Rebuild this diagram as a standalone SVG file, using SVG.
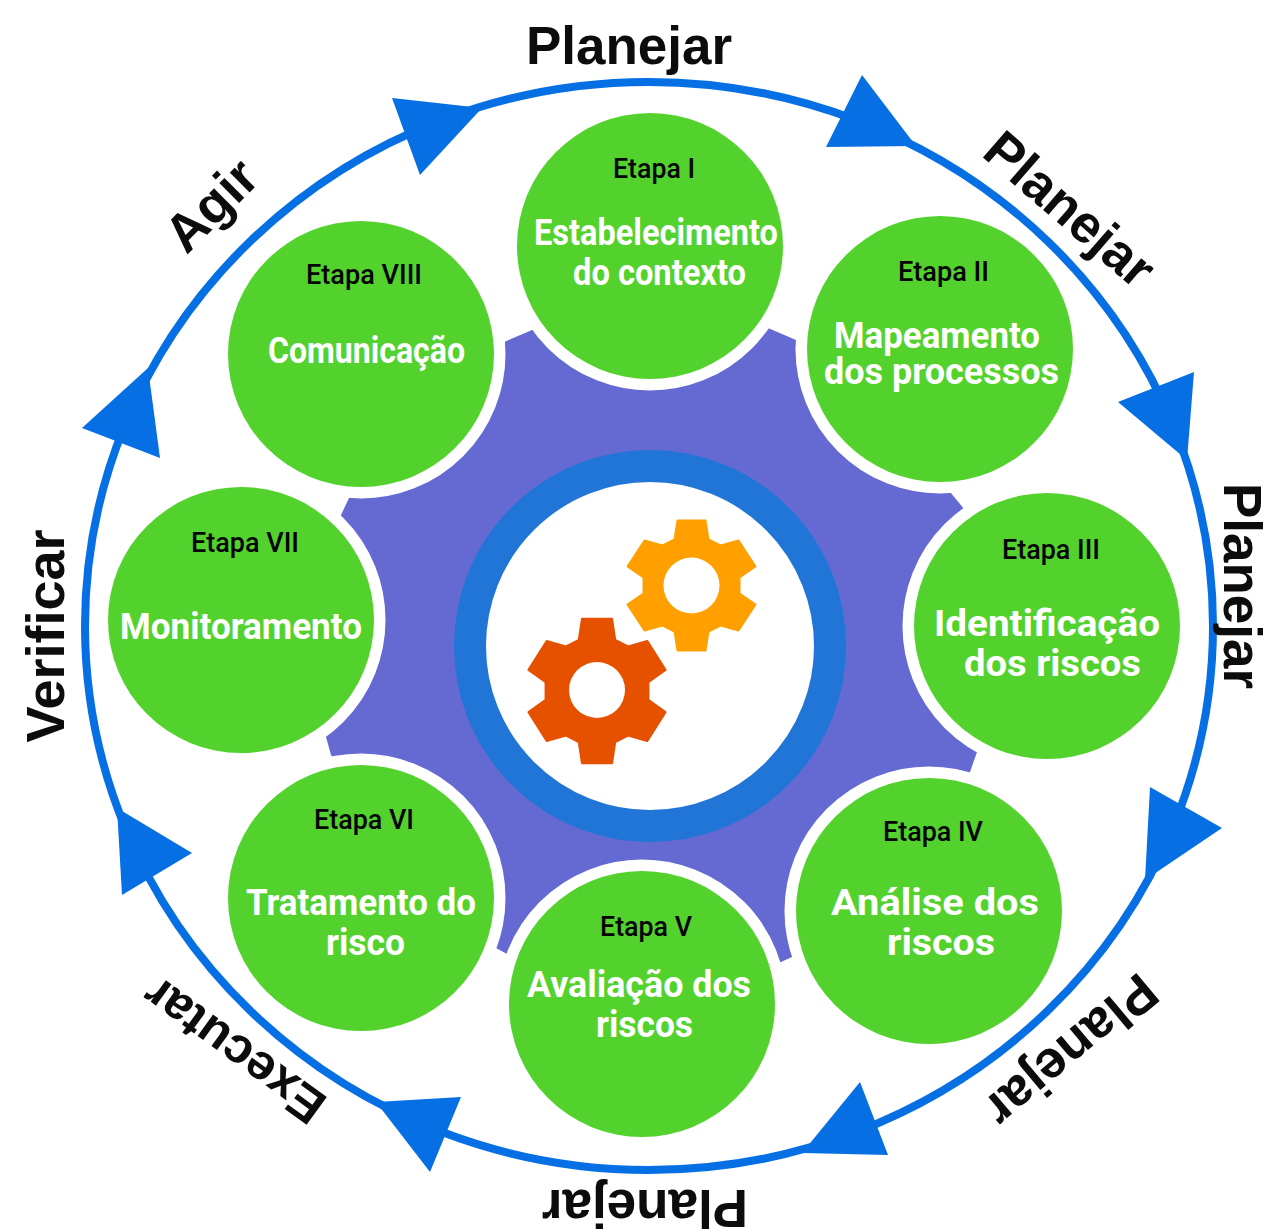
<svg xmlns="http://www.w3.org/2000/svg" xmlns:xlink="http://www.w3.org/1999/xlink" width="1268" height="1230" viewBox="0 0 1268 1230">
<style>
.outer{font-family:"Liberation Sans",Arial,sans-serif;font-weight:700;font-size:53px;fill:#0c0c0c;text-anchor:middle}
.et{font-family:Roboto,"Liberation Sans",sans-serif;font-weight:500;font-size:27px;fill:#050505}
.tt{font-family:Roboto,"Liberation Sans",sans-serif;font-weight:700;font-size:36px;fill:#fff}
.c{fill:#53d22d;stroke:#fff;stroke-width:23;paint-order:stroke}
.arrow{fill:#066fe3}
.g{stroke-width:2;stroke-linejoin:round}
</style>
<defs>
<polygon id="gear" class="g" points="14,-65 17,-46 29,-40 47,-45 64,-19 48,-8 48,8 64,19 47,45 29,40 17,46 14,65 -14,65 -17,46 -29,40 -47,45 -64,19 -48,8 -48,-8 -64,-19 -47,-45 -29,-40 -17,-46 -14,-65"/>
</defs>
<rect width="1268" height="1230" fill="#fff"/>
<g id="connectors">
<ellipse cx="649" cy="626" rx="564" ry="544" fill="none" stroke="#066fe3" stroke-width="8"/>
<polygon class="arrow" points="862,75 826,147 916,146"/>
<polygon class="arrow" points="1194,372 1118,402 1187,460"/>
<polygon class="arrow" points="1150,787 1145,880 1222,828"/>
<polygon class="arrow" points="860,1082 888,1155 802,1153"/>
<polygon class="arrow" points="461,1097 430,1172 376,1102"/>
<polygon class="arrow" points="192,853 122,895 117,808"/>
<polygon class="arrow" points="160,458 82,428 148,368"/>
<polygon class="arrow" points="392,98 420,175 482,108"/>
</g>
<g id="center">
<polygon fill="#646ad2" points="504,342 532,330 768,328 796,340 950,492 965,510 977,752 970,772 792,957 781,962 507,954 496,948 331,755 326,737 341,515 349,498"/>
<circle cx="650" cy="646" r="180" fill="#fff" stroke="#2075d6" stroke-width="32"/>
<use xlink:href="#gear" transform="translate(691.500 585.500)" fill="#ffa000" stroke="#ffa000"/>
<circle cx="691.500" cy="585.500" r="28" fill="#fff"/>
<use xlink:href="#gear" transform="translate(597 691) scale(1.07 1.11)" fill="#e65100" stroke="#e65100"/>
<circle cx="597" cy="690" r="28" fill="#fff"/>
</g>
<g id="etapa1"><circle class="c" cx="650" cy="246" r="133"/><text class="et" x="613" y="178" textLength="82" lengthAdjust="spacingAndGlyphs">Etapa I</text><text class="tt" x="534" y="245" textLength="244" lengthAdjust="spacingAndGlyphs">Estabelecimento</text><text class="tt" x="573" y="285" textLength="173" lengthAdjust="spacingAndGlyphs">do contexto</text></g>
<g id="etapa2"><circle class="c" cx="940" cy="349" r="133"/><text class="et" x="898" y="281" textLength="91" lengthAdjust="spacingAndGlyphs">Etapa II</text><text class="tt" x="834" y="348" textLength="206" lengthAdjust="spacingAndGlyphs">Mapeamento</text><text class="tt" x="824" y="384" textLength="235" lengthAdjust="spacingAndGlyphs">dos processos</text></g>
<g id="etapa3"><circle class="c" cx="1047" cy="626" r="133"/><text class="et" x="1002" y="559" textLength="98" lengthAdjust="spacingAndGlyphs">Etapa III</text><text class="tt" x="934" y="636" textLength="226" lengthAdjust="spacingAndGlyphs">Identificação</text><text class="tt" x="964" y="676" textLength="177" lengthAdjust="spacingAndGlyphs">dos riscos</text></g>
<g id="etapa4"><circle class="c" cx="929" cy="911" r="133"/><text class="et" x="883" y="841" textLength="100" lengthAdjust="spacingAndGlyphs">Etapa IV</text><text class="tt" x="831" y="915" textLength="208" lengthAdjust="spacingAndGlyphs">Análise dos</text><text class="tt" x="887" y="955" textLength="108" lengthAdjust="spacingAndGlyphs">riscos</text></g>
<g id="etapa5"><circle class="c" cx="642" cy="1004" r="133"/><text class="et" x="600" y="936" textLength="92" lengthAdjust="spacingAndGlyphs">Etapa V</text><text class="tt" x="527" y="997" textLength="224" lengthAdjust="spacingAndGlyphs">Avaliação dos</text><text class="tt" x="596" y="1037" textLength="97" lengthAdjust="spacingAndGlyphs">riscos</text></g>
<g id="etapa6"><circle class="c" cx="361" cy="898" r="133"/><text class="et" x="314" y="829" textLength="100" lengthAdjust="spacingAndGlyphs">Etapa VI</text><text class="tt" x="246" y="915" textLength="230" lengthAdjust="spacingAndGlyphs">Tratamento do</text><text class="tt" x="326" y="955" textLength="79" lengthAdjust="spacingAndGlyphs">risco</text></g>
<g id="etapa7"><circle class="c" cx="241" cy="620" r="133"/><text class="et" x="191" y="552" textLength="108" lengthAdjust="spacingAndGlyphs">Etapa VII</text><text class="tt" x="120" y="639" textLength="242" lengthAdjust="spacingAndGlyphs">Monitoramento</text></g>
<g id="etapa8"><circle class="c" cx="361" cy="354" r="133"/><text class="et" x="306" y="284" textLength="116" lengthAdjust="spacingAndGlyphs">Etapa VIII</text><text class="tt" x="268" y="363" textLength="197" lengthAdjust="spacingAndGlyphs">Comunicação</text></g>
<g id="labels">
<text class="outer" transform="translate(629 64)">Planejar</text>
<text class="outer" transform="translate(1058 223) rotate(41)">Planejar</text>
<text class="outer" transform="translate(1224 586) rotate(90)">Planejar</text>
<text class="outer" transform="translate(1060 1037) rotate(140)">Planejar</text>
<text class="outer" transform="translate(645 1190) rotate(180)">Planejar</text>
<text class="outer" style="font-size:50px" transform="translate(244 1037) rotate(216)">Executar</text>
<text class="outer" transform="translate(64 636) rotate(-90)" style="font-size:54px">Verificar</text>
<text class="outer" transform="translate(224 218) rotate(-45)">Agir</text>
</g>
</svg>
